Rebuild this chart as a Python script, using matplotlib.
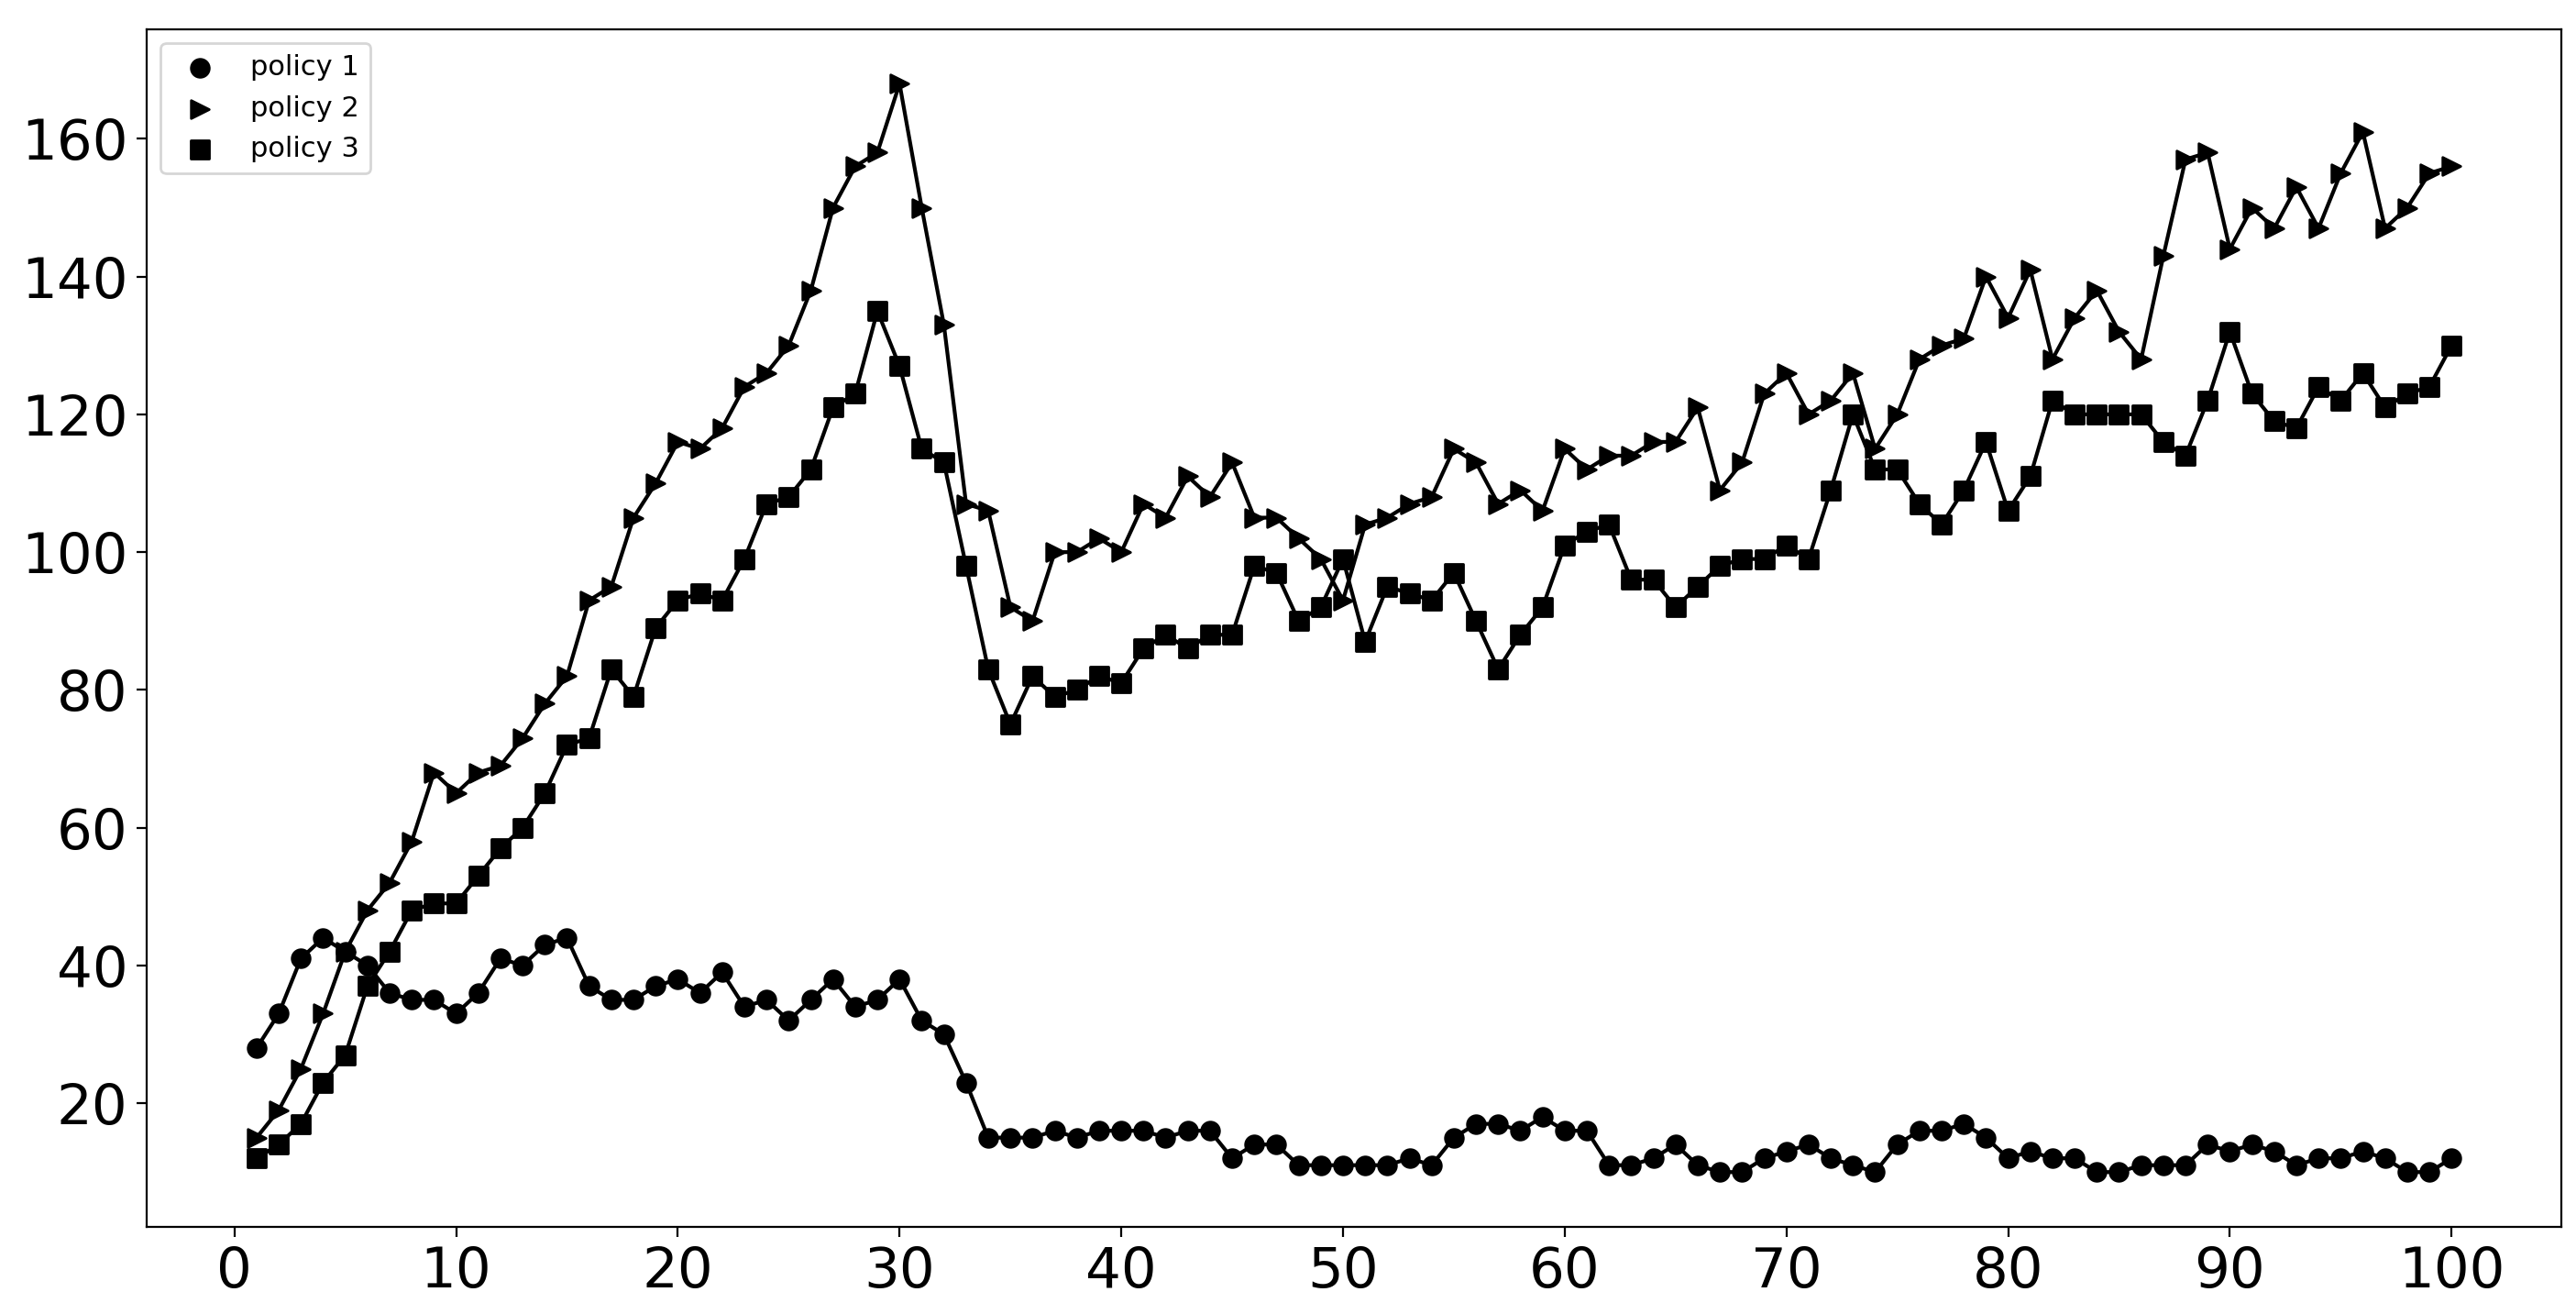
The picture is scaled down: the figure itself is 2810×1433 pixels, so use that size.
import matplotlib
matplotlib.use('Agg')
import matplotlib.pyplot as plt
import numpy as np

# episodes 1..100
steps = np.arange(1, 101)

# values
policy_1 = [28, 33, 41, 44, 42, 40, 36, 35, 35, 33,
            36, 41, 40, 43, 44, 37, 35, 35, 37, 38,
            36, 39, 34, 35, 32, 35, 38, 34, 35, 38,
            32, 30, 23, 15, 15, 15, 16, 15, 16, 16,
            16, 15, 16, 16, 12, 14, 14, 11, 11, 11,
            11, 11, 12, 11, 15, 17, 17, 16, 18, 16,
            16, 11, 11, 12, 14, 11, 10, 10, 12, 13,
            14, 12, 11, 10, 14, 16, 16, 17, 15, 12,
            13, 12, 12, 10, 10, 11, 11, 11, 14, 13,
            14, 13, 11, 12, 12, 13, 12, 10, 10, 12]

policy_2 = [15, 19, 25, 33, 42, 48, 52, 58, 68, 65,
            68, 69, 73, 78, 82, 93, 95, 105, 110, 116,
            115, 118, 124, 126, 130, 138, 150, 156, 158, 168,
            150, 133, 107, 106, 92, 90, 100, 100, 102, 100,
            107, 105, 111, 108, 113, 105, 105, 102, 99, 93,
            104, 105, 107, 108, 115, 113, 107, 109, 106, 115,
            112, 114, 114, 116, 116, 121, 109, 113, 123, 126,
            120, 122, 126, 115, 120, 128, 130, 131, 140, 134,
            141, 128, 134, 138, 132, 128, 143, 157, 158, 144,
            150, 147, 153, 147, 155, 161, 147, 150, 155, 156]

policy_3 = [12, 14, 17, 23, 27, 37, 42, 48, 49, 49,
            53, 57, 60, 65, 72, 73, 83, 79, 89, 93,
            94, 93, 99, 107, 108, 112, 121, 123, 135, 127,
            115, 113, 98, 83, 75, 82, 79, 80, 82, 81,
            86, 88, 86, 88, 88, 98, 97, 90, 92, 99,
            87, 95, 94, 93, 97, 90, 83, 88, 92, 101,
            103, 104, 96, 96, 92, 95, 98, 99, 99, 101,
            99, 109, 120, 112, 112, 107, 104, 109, 116, 106,
            111, 122, 120, 120, 120, 120, 116, 114, 122, 132,
            123, 119, 118, 124, 122, 126, 121, 123, 124, 130]

labels = ['policy 1', 'policy 2', 'policy 3']
markers = ['o', '>', 's']

fig = plt.figure(figsize=(14.05, 7.165), dpi=200)
ax = fig.add_axes([0.057, 0.0666, 0.9373, 0.9111])

for ys, lab, mk in zip([policy_1, policy_2, policy_3], labels, markers):
    ax.plot(steps, ys, color='black', linewidth=1.5)
    ax.scatter(steps, ys, marker=mk, s=50, color='black', label=lab, zorder=3)

ax.set_xticks(np.arange(0, 101, 10))
ax.set_yticks(np.arange(20, 161, 20))
ax.tick_params(axis='both', labelsize=22, length=4, width=0.8)

ax.legend(loc='upper left', fontsize=11)

fig.savefig('out.png', dpi=200)
